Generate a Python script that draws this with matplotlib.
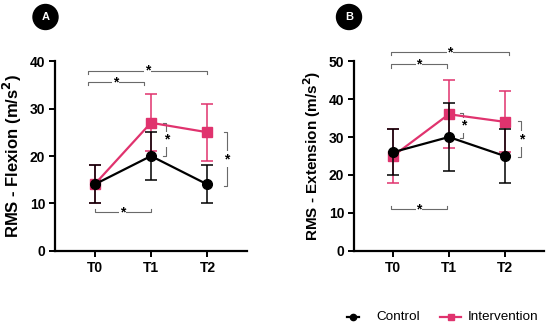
import matplotlib
matplotlib.use("Agg")
import matplotlib.pyplot as plt
from matplotlib.lines import Line2D
from matplotlib.patches import Circle

plt.rcParams['font.family'] = ['Liberation Sans', 'DejaVu Sans']

times = ["T0", "T1", "T2"]

# Panel A: Flexion
flex_control = [14, 20, 14]
flex_control_sd = [4, 5, 4]
flex_interv = [14, 27, 25]
flex_interv_sd = [4, 6, 6]

# Panel B: Extension
ext_control = [26, 30, 25]
ext_control_sd = [6, 9, 7]
ext_interv = [25, 36, 34]
ext_interv_sd = [7, 9, 8]

legend_labels = ["Control", "Intervention"]

PINK = "#e0336e"
GRAY = "#6a6a6a"

fig = plt.figure(figsize=(5.5, 3.25), dpi=100)
axA = fig.add_axes([0.1, 0.228, 0.349, 0.584])
axB = fig.add_axes([0.6436, 0.228, 0.345, 0.584])


def hbracket(ax, x0, x1, y, down=True, tick=0.9):
    d = -tick if down else tick
    ax.plot([x0, x0, x1, x1], [y + d, y, y, y + d], color=GRAY, lw=0.8,
            clip_on=False, zorder=1)
    xm = (x0 + x1) / 2
    ax.text(xm, y, "*", ha="center", va="center", fontsize=10,
            color="black", fontweight="bold", zorder=3,
            bbox=dict(boxstyle="square,pad=0.05", fc="white", ec="none"))


def vbracket(ax, x, y0, y1, tick=0.06):
    ax.plot([x - tick, x, x, x - tick], [y0, y0, y1, y1], color=GRAY, lw=0.8,
            clip_on=False, zorder=1)
    ym = (y0 + y1) / 2
    ax.text(x, ym, "*", ha="center", va="center", fontsize=10,
            color="black", fontweight="bold", zorder=3,
            bbox=dict(boxstyle="square,pad=0.05", fc="white", ec="none"))


def panel(ax, ctrl, ctrl_sd, intv, intv_sd, ymax, ylabel, lsize):
    x = list(range(len(times)))
    ax.errorbar(x, intv, yerr=intv_sd, color=PINK, marker="s", ms=7,
                lw=1.6, capsize=4, elinewidth=1.1, capthick=1.1, zorder=4,
                clip_on=False)
    ax.errorbar(x, ctrl, yerr=ctrl_sd, color="black", marker="o", ms=7,
                lw=1.6, capsize=4, elinewidth=1.1, capthick=1.1, zorder=5,
                clip_on=False)
    ax.set_xlim(-0.7, 2.7)
    ax.set_ylim(0, ymax)
    ax.set_xticks(x)
    ax.set_xticklabels(times, fontweight="bold", fontsize=10)
    ax.set_yticks(range(0, ymax + 1, 10))
    for lab in ax.get_yticklabels():
        lab.set_fontweight("bold")
        lab.set_fontsize(10)
    ax.spines["top"].set_visible(False)
    ax.spines["right"].set_visible(False)
    ax.spines["left"].set_linewidth(1.6)
    ax.spines["bottom"].set_linewidth(1.6)
    ax.tick_params(width=1.4, length=4, pad=3)
    ax.set_ylabel(ylabel, fontweight="bold", fontsize=lsize)
    ax.yaxis.set_label_coords(-0.162, 0.5)


panel(axA, flex_control, flex_control_sd, flex_interv, flex_interv_sd, 40,
      r"RMS - Flexion (m/s$^\mathbf{2}$)", 12)
panel(axB, ext_control, ext_control_sd, ext_interv, ext_interv_sd, 50,
      r"RMS - Extension (m/s$^\mathbf{2}$)", 11)

# Significance brackets panel A
hbracket(axA, -0.12, 2.0, 38.0, down=True, tick=0.7)
hbracket(axA, -0.12, 0.87, 35.6, down=True, tick=0.7)
hbracket(axA, 0.0, 1.0, 8.1, down=False, tick=0.7)
vbracket(axA, 1.27, 20, 27)
vbracket(axA, 2.35, 13.7, 25)

# Significance brackets panel B
hbracket(axB, -0.03, 2.07, 52.4, down=True, tick=0.9)
hbracket(axB, -0.03, 0.96, 49.2, down=True, tick=0.9)
hbracket(axB, -0.03, 0.96, 11.0, down=False, tick=0.9)
vbracket(axB, 1.26, 29.7, 36.3)
vbracket(axB, 2.3, 24.7, 34.2)

# Panel label circles
for cx, letter in [(45.5, "A"), (349, "B")]:
    fx, fy = cx / 550, 1 - 17 / 325
    circ = Circle((fx * 5.5, fy * 3.25), 0.125, transform=fig.dpi_scale_trans,
                  color="black")
    fig.patches.append(circ)
    fig.text(fx, fy, letter, ha="center", va="center", color="white",
             fontweight="bold", fontsize=8)

# Legend (manual placement in figure pixels)
ly = 1 - 317 / 325
for (x0, x1, tx), col, mk, lab in zip(
        [(347, 359, 376), (440, 461, 468)], ["black", PINK], ["o", "s"],
        legend_labels):
    fig.add_artist(Line2D([x0 / 550, x1 / 550], [ly, ly], color=col, lw=1.6,
                          transform=fig.transFigure))
    fig.add_artist(Line2D([(x0 + x1) / 1100], [ly], color=col, marker=mk,
                          ms=4.5, transform=fig.transFigure))
    fig.text(tx / 550, ly, lab, ha="left", va="center", fontsize=9.7)

fig.savefig("out.png", dpi=100)
